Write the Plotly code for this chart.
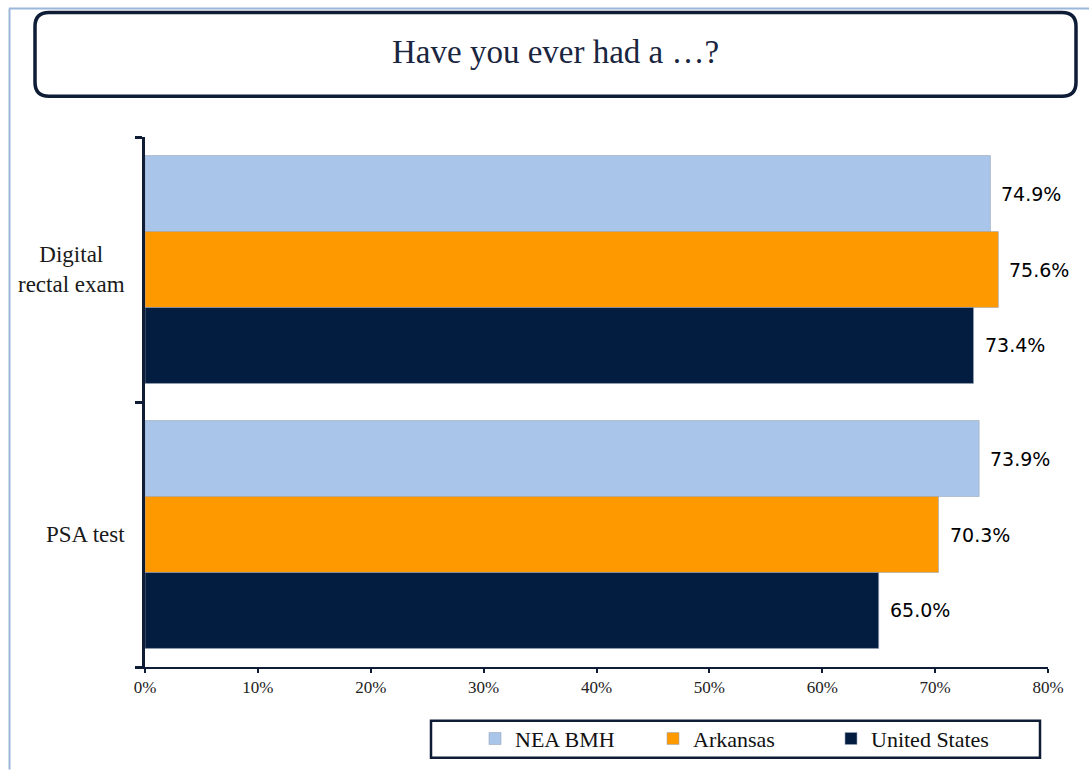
import plotly.graph_objects as go

categories = ["Digital<br>rectal exam", "PSA test"]
series_names = ["NEA BMH", "Arkansas", "United States"]
nea_bmh = [74.9, 73.9]
arkansas = [75.6, 70.3]
united_states = [73.4, 65.0]
x_ticks = [0, 10, 20, 30, 40, 50, 60, 70, 80]
x_tick_labels = ["0%", "10%", "20%", "30%", "40%", "50%", "60%", "70%", "80%"]
title_text = "Have you ever had a …?"

colors = ["#a9c5ea", "#ff9900", "#021d40"]
series_values = [nea_bmh, arkansas, united_states]

W, H = 1089, 772
ML, MR, MT, MB = 145, 41, 137, 103
PW, PH = W - ML - MR, H - MT - MB


def px(xp):
    return (xp - ML) / PW


def py(yp):
    return (H - MB - yp) / PH


SERIF = "Liberation Serif"
NAVY = "#0f1c36"

fig = go.Figure()
for name, vals, col in zip(series_names, series_values, colors):
    fig.add_trace(go.Bar(
        y=categories, x=vals, name=name, orientation="h",
        marker=dict(color=col, line=dict(color="#9aa6b8", width=0.6)),
    ))

bargap = 0.14
n = len(series_names)
bw = (1 - bargap) / n
annotations = []
for i, vals in enumerate(series_values):
    for ci, v in enumerate(vals):
        annotations.append(dict(
            x=v, y=ci - (1 - bargap) / 2 + bw * (i + 0.5), xref="x", yref="y",
            text=f"{v:.1f}%", showarrow=False, xanchor="left", yanchor="middle",
            xshift=9, font=dict(family="DejaVu Sans", size=19, color="#000000"),
        ))
for ci, c in enumerate(categories):
    annotations.append(dict(
        x=px(127), y=ci, xref="paper", yref="y", text=c, showarrow=False,
        xanchor="right", yanchor="middle", align="center",
        font=dict(family=SERIF, size=23, color="#1a1a1a"),
    ))
annotations.append(dict(
    x=px(555), y=py(52), xref="paper", yref="paper", text=title_text,
    showarrow=False, xanchor="center", yanchor="middle",
    font=dict(family=SERIF, size=33, color="#1a2540"),
))


def rounded_rect(x0, y0, x1, y1, r):
    rx, ry = r / PW, r / PH
    X0, X1 = px(x0), px(x1)
    Yt, Yb = py(y0), py(y1)
    return (f"M {X0+rx},{Yt} L {X1-rx},{Yt} Q {X1},{Yt} {X1},{Yt-ry} "
            f"L {X1},{Yb+ry} Q {X1},{Yb} {X1-rx},{Yb} L {X0+rx},{Yb} "
            f"Q {X0},{Yb} {X0},{Yb+ry} L {X0},{Yt-ry} Q {X0},{Yt} {X0+rx},{Yt} Z")


shapes = [
    dict(type="line", xref="paper", yref="paper", x0=px(9.5), x1=px(9.5),
         y0=py(8), y1=py(772), line=dict(color="#9ab6d8", width=2)),
    dict(type="line", xref="paper", yref="paper", x0=px(9), x1=px(1089),
         y0=py(8), y1=py(8), line=dict(color="#9ab6d8", width=2)),
    dict(type="path", xref="paper", yref="paper", path=rounded_rect(35, 12, 1076, 96, 14),
         line=dict(color=NAVY, width=3.5), fillcolor="rgba(0,0,0,0)"),
    dict(type="rect", xref="paper", yref="paper", x0=px(431), x1=px(1040),
         y0=py(723), y1=py(760), line=dict(color=NAVY, width=2.5)),
]

fig.update_layout(
    width=W, height=H, autosize=False,
    margin=dict(l=ML, r=MR, t=MT, b=MB, pad=0),
    paper_bgcolor="white", plot_bgcolor="white",
    barmode="group", bargap=bargap, bargroupgap=0,
    showlegend=True,
    legend=dict(orientation="h", x=px(475), y=py(741), xanchor="left", yanchor="middle",
                font=dict(family=SERIF, size=22, color="#111111"),
                bgcolor="rgba(0,0,0,0)", borderwidth=0,
                entrywidth=133, itemwidth=30, traceorder="normal"),
    xaxis=dict(range=[0, 80], tickmode="array", tickvals=x_ticks, ticktext=x_tick_labels,
               showgrid=False, zeroline=False, showline=True, linecolor=NAVY, linewidth=2,
               ticks="outside", ticklen=4, tickwidth=2, tickcolor=NAVY,
               tickfont=dict(family=SERIF, size=17, color="#222222"),
               fixedrange=True),
    yaxis=dict(autorange="reversed", showticklabels=False, showgrid=False,
               zeroline=False, showline=True, linecolor=NAVY, linewidth=2.5,
               tickmode="array", tickvals=[-0.5, 0.5, 1.5], ticks="outside",
               ticklen=7, tickwidth=2.5, tickcolor=NAVY, range=[1.5, -0.5]),
    shapes=shapes, annotations=annotations,
)

fig.write_html("out.html")
